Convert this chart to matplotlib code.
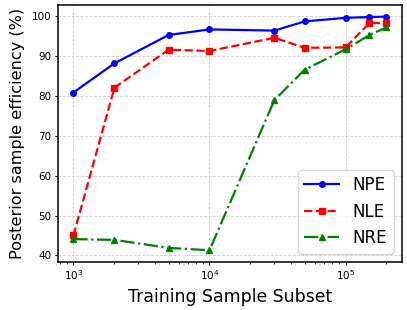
import matplotlib
matplotlib.use("Agg")
import matplotlib.pyplot as plt

# training subset sizes
sizes = [1000, 2000, 5000, 10000, 30000, 50000, 100000, 150000, 200000]

npe = [80.8, 88.1, 95.2, 96.6, 96.3, 98.6, 99.5, 99.7, 99.8]
nle = [45.0, 82.0, 91.5, 91.2, 94.5, 92.0, 92.1, 98.2, 98.2]
nre = [44.1, 43.9, 41.9, 41.3, 78.9, 86.5, 91.6, 95.2, 97.1]

fig = plt.figure(figsize=(4.07, 3.10), dpi=100)
ax = fig.add_axes([0.142, 0.155, 0.846, 0.829])

ax.plot(sizes, npe, "b-o", markersize=4, linewidth=1.6, label="NPE")
ax.plot(sizes, nle, "r--s", markersize=4, linewidth=1.6, label="NLE")
ax.plot(sizes, nre, "g-.^", markersize=4, linewidth=1.6, label="NRE")

ax.set_xscale("log")
ax.grid(True, linestyle="--", color="#cccccc", linewidth=0.6)
ax.tick_params(labelsize=7.5, length=2.5, pad=2)
ax.tick_params(which="minor", length=1.5)
for s in ax.spines.values():
    s.set_linewidth(1.1)
ax.set_xlabel("Training Sample Subset", fontsize=12.4, labelpad=4)
ax.set_ylabel("Posterior sample efficiency (%)", fontsize=11.6, labelpad=5)
ax.legend(loc="lower right", fontsize=12, handlelength=2.1)

fig.savefig("out.png", dpi=100)
